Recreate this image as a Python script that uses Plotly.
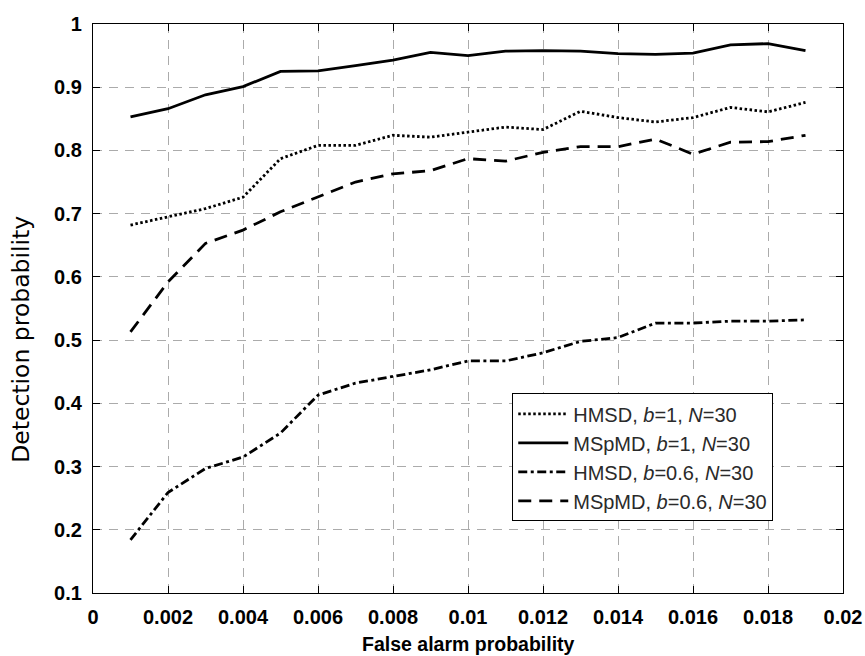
import plotly.graph_objects as go

x_vals = [0.001, 0.002, 0.003, 0.004, 0.005, 0.006, 0.007, 0.008, 0.009, 0.010,
          0.011, 0.012, 0.013, 0.014, 0.015, 0.016, 0.017, 0.018, 0.019]

hmsd_b1 = [0.682, 0.695, 0.708, 0.726, 0.787, 0.808, 0.808, 0.824, 0.821, 0.829,
           0.837, 0.833, 0.862, 0.852, 0.845, 0.852, 0.868, 0.861, 0.876]
mspmd_b1 = [0.853, 0.866, 0.888, 0.901, 0.925, 0.926, 0.934, 0.943, 0.955, 0.950,
            0.957, 0.958, 0.957, 0.953, 0.952, 0.954, 0.967, 0.969, 0.958]
hmsd_b06 = [0.184, 0.259, 0.297, 0.315, 0.353, 0.413, 0.432, 0.442, 0.453, 0.467,
            0.467, 0.480, 0.498, 0.504, 0.527, 0.527, 0.530, 0.530, 0.532]
mspmd_b06 = [0.513, 0.592, 0.653, 0.674, 0.703, 0.726, 0.750, 0.763, 0.768, 0.787,
             0.783, 0.797, 0.806, 0.806, 0.818, 0.794, 0.813, 0.814, 0.824]

x_ticks = [0, 0.002, 0.004, 0.006, 0.008, 0.01, 0.012, 0.014, 0.016, 0.018, 0.02]
x_tick_labels = ["0", "0.002", "0.004", "0.006", "0.008", "0.01", "0.012", "0.014",
                 "0.016", "0.018", "0.02"]
y_ticks = [0.1, 0.2, 0.3, 0.4, 0.5, 0.6, 0.7, 0.8, 0.9, 1.0]
y_tick_labels = ["0.1", "0.2", "0.3", "0.4", "0.5", "0.6", "0.7", "0.8", "0.9", "1"]

x_title = "False alarm probability"
y_title = "Detection probability"

series = [
    ("HMSD, <i>b</i>=1, <i>N</i>=30", hmsd_b1, "2.5px,2.5px"),
    ("MSpMD, <i>b</i>=1, <i>N</i>=30", mspmd_b1, "solid"),
    ("HMSD, <i>b</i>=0.6, <i>N</i>=30", hmsd_b06, "9px,3.5px,3px,3.5px"),
    ("MSpMD, <i>b</i>=0.6, <i>N</i>=30", mspmd_b06, "13px,8px"),
]

fig = go.Figure()
for name, ys, dash in series:
    fig.add_trace(go.Scatter(x=x_vals, y=ys, mode="lines", name=name,
                             line=dict(color="black", width=2.8, dash=dash)))

tick_font = dict(family="Liberation Sans, Arial", size=20, color="black", weight="bold")
axis_common = dict(
    showline=True, linecolor="black", linewidth=1.3, mirror="ticks",
    ticks="inside", ticklen=7, tickcolor="black",
    showgrid=True, gridcolor="#ababab", gridwidth=1, griddash="9px,7px",
    zeroline=False, tickfont=tick_font, automargin=False,
)

fig.update_xaxes(range=[0, 0.02], tickvals=x_ticks, ticktext=x_tick_labels,
                 ticklabelstandoff=6, **axis_common)
fig.update_yaxes(range=[0.1, 1.0], tickvals=y_ticks, ticktext=y_tick_labels,
                 ticklabelstandoff=6, **axis_common)

fig.add_annotation(text="<b>" + x_title + "</b>", xref="paper", yref="paper",
                   x=0.5, y=-0.0905, xanchor="center", yanchor="middle", showarrow=False,
                   font=dict(family="Liberation Sans, Arial", size=19.5, color="black"))
fig.add_annotation(text=y_title, xref="paper", yref="paper", textangle=-90,
                   x=-0.096, y=0.445, xanchor="center", yanchor="middle", showarrow=False,
                   font=dict(family="DejaVu Sans", size=23.5, color="black"))

fig.update_layout(
    width=865, height=656,
    margin=dict(l=93, r=22, t=24, b=63),
    plot_bgcolor="white", paper_bgcolor="white",
    showlegend=True,
    legend=dict(x=0.559, y=0.351, xanchor="left", yanchor="top",
                bgcolor="white", bordercolor="black", borderwidth=1,
                font=dict(family="Liberation Sans, Arial", size=20, color="#2a2a2a"),
                itemwidth=50, tracegroupgap=0),
)

fig.write_html("out.html", config={"displayModeBar": False},
               post_script="document.body.style.margin='0';document.body.style.overflow='hidden';")
